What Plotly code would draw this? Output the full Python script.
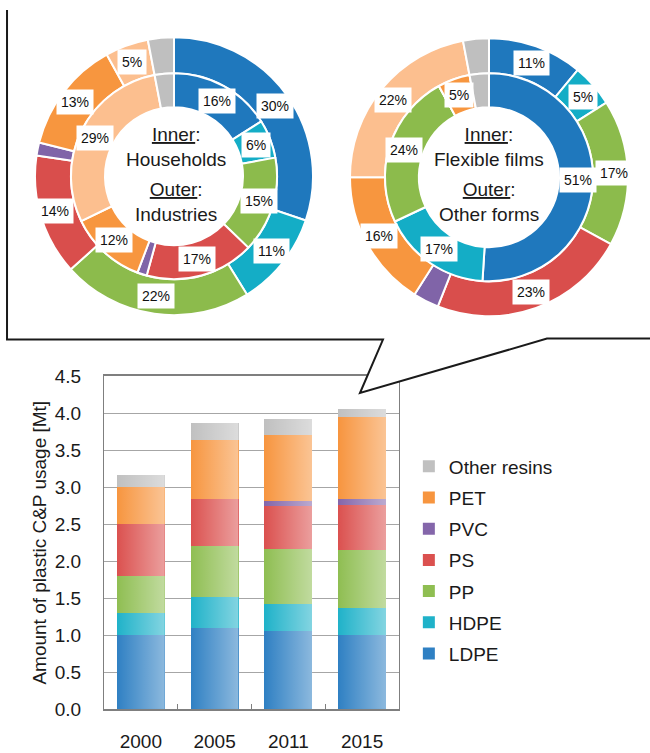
import base64
import math
import plotly.graph_objects as go

W, H = 650, 753

# ---------------- data ----------------
years = ["2000", "2005", "2011", "2015"]
ldpe = [1.00, 1.10, 1.05, 1.00]
hdpe = [0.30, 0.41, 0.37, 0.36]
pp = [0.50, 0.70, 0.74, 0.79]
ps = [0.70, 0.635, 0.585, 0.615]
pvc = [0.0, 0.0, 0.07, 0.08]
pet = [0.50, 0.79, 0.89, 1.10]
other_resins = [0.17, 0.24, 0.225, 0.12]
resins = ["LDPE", "HDPE", "PP", "PS", "PVC", "PET", "Other resins"]

pie_labels = ["LDPE", "HDPE", "PP", "PS", "PVC", "PET", "PET (other)", "Other resins"]
households = [16, 6, 15, 17, 1.5, 12, 29, 3]
households_text = ["16%", "6%", "15%", "17%", "", "12%", "29%", ""]
industries = [30, 11, 22, 14, 1.5, 13, 5, 3]
industries_text = ["30%", "11%", "22%", "14%", "", "13%", "5%", ""]
flexible_films = [51, 17, 24, 0, 0, 5, 0, 3]
flexible_films_text = ["51%", "17%", "24%", "", "", "5%", "", ""]
other_forms = [11, 5, 17, 23, 3, 16, 22, 3]
other_forms_text = ["11%", "5%", "17%", "23%", "", "16%", "22%", ""]

# ---------------- styles ----------------
FONT = "Liberation Sans, Arial, sans-serif"
bar_colors = ["#2f80c3", "#1fb2c9", "#8fbe52", "#db514f", "#8466aa", "#f7953f", "#c0c0c0"]
pie_colors = ["#1f78bd", "#14adc6", "#8cbb4c", "#d94e4c", "#8064a8", "#f7963f", "#fcbf8f", "#bfbfbf"]
BAR_WIDTH = 0.65


def px_x(x):
    return x / W


def px_y(y):
    return 1 - y / H


fig = go.Figure()

series = [ldpe, hdpe, pp, ps, pvc, pet, other_resins]
n = len(series)
for i, (name, vals, col) in enumerate(zip(resins, series, bar_colors)):
    fig.add_trace(go.Bar(
        x=years, y=vals, name=name, marker=dict(color=col, line=dict(width=0)),
        legendgroup=name, legendrank=n - i,
    ))

# horizontal shading overlay on each bar (left saturated -> right lighter)
svg = ('<svg xmlns="http://www.w3.org/2000/svg" width="100" height="100" viewBox="0 0 100 100" '
       'preserveAspectRatio="none"><defs><linearGradient id="g" x1="0" x2="1" y1="0" y2="0">'
       '<stop offset="0" stop-color="#ffffff" stop-opacity="0"/>'
       '<stop offset="1" stop-color="#ffffff" stop-opacity="0.45"/></linearGradient></defs>'
       '<rect x="0" y="0" width="100" height="100" fill="url(#g)"/></svg>')
grad_src = "data:image/svg+xml;base64," + base64.b64encode(svg.encode()).decode()
totals = [sum(s[j] for s in series) for j in range(len(years))]
images = []
for j, tot in enumerate(totals):
    images.append(dict(source=grad_src, xref="x", yref="y", x=j, y=tot,
                       sizex=BAR_WIDTH, sizey=tot, xanchor="center", yanchor="top",
                       sizing="stretch", layer="above", opacity=1))


def add_pie(values, cx, cy, r, hole):
    fig.add_trace(go.Pie(
        labels=pie_labels, values=values, textinfo="none",
        marker=dict(colors=pie_colors, line=dict(color="white", width=2)),
        sort=False, direction="clockwise", rotation=0, hole=hole,
        showlegend=False,
        domain=dict(x=[px_x(cx - r), px_x(cx + r)], y=[px_y(cy + r), px_y(cy - r)]),
    ))


annotations = []


def add_pie_labels(values, texts, cx, cy, r_in, r_out):
    total = float(sum(values))
    cum = 0.0
    rm = (r_in + r_out) / 2
    for v, t in zip(values, texts):
        mid = (cum + v / 2) / total * 2 * math.pi
        cum += v
        if not t:
            continue
        annotations.append(dict(
            x=px_x(cx + rm * math.sin(mid)), y=px_y(cy - rm * math.cos(mid)),
            xref="paper", yref="paper", xanchor="center", yanchor="middle",
            text=t, showarrow=False, bgcolor="white", borderpad=4,
            font=dict(family=FONT, size=14, color="#111111")))


# left donut (Households inner / Industries outer)
add_pie(industries, 174, 171, 143, 106 / 143)
add_pie(households, 174, 171, 106, 71 / 106)
# right donut (Flexible films inner / Other forms outer)
add_pie(other_forms, 489, 172, 143, 107 / 143)
add_pie(flexible_films, 489, 172, 107, 72 / 107)

add_pie_labels(industries, industries_text, 174, 171, 106, 143)
add_pie_labels(households, households_text, 174, 171, 71, 106)
add_pie_labels(other_forms, other_forms_text, 489, 172, 107, 143)
add_pie_labels(flexible_films, flexible_films_text, 489, 172, 72, 107)

for cx, inner, outer in [(176, "Households", "Industries"), (489, "Flexible films", "Other forms")]:
    annotations.append(dict(x=px_x(cx), y=px_y(141), xref="paper", yref="paper",
                            xanchor="center", yanchor="middle",
                            text="<u>Inner</u>:<br>" + inner, showarrow=False,
                            font=dict(family=FONT, size=19, color="#1a1a1a"), align="center"))
    annotations.append(dict(x=px_x(cx), y=px_y(198), xref="paper", yref="paper",
                            xanchor="center", yanchor="middle",
                            text="<u>Outer</u>:<br>" + outer, showarrow=False,
                            font=dict(family=FONT, size=19, color="#1a1a1a"), align="center"))

# speech bubble outline
pts = [(7, 0), (7, 339), (383, 339), (360, 394), (547, 338), (650, 338)]
path = "M " + " L ".join(f"{px_x(x):.4f},{px_y(y):.4f}" for x, y in pts)
tri = [(383, 339), (360, 394), (547, 338)]
tri_path = "M " + " L ".join(f"{px_x(x):.4f},{px_y(y):.4f}" for x, y in tri) + " Z"
shapes = [
    dict(type="path", path=tri_path, xref="paper", yref="paper", fillcolor="white",
         line=dict(width=0), layer="above"),
    dict(type="path", path=path, xref="paper", yref="paper",
         line=dict(color="#1a1a1a", width=2), layer="above"),
]

fig.update_layout(
    width=W, height=H, margin=dict(l=0, r=0, t=0, b=0),
    paper_bgcolor="white", plot_bgcolor="white",
    font=dict(family=FONT, color="#1a1a1a"),
    barmode="stack", bargap=1 - BAR_WIDTH,
    showlegend=True,
    legend=dict(x=0.629, y=px_y(450), xanchor="left", yanchor="top",
                traceorder="grouped", tracegroupgap=3.5,
                font=dict(family=FONT, size=19, color="#1a1a1a"),
                bgcolor="rgba(0,0,0,0)"),
    annotations=annotations, shapes=shapes, images=images,
    xaxis=dict(type="category", domain=[px_x(104), px_x(399)], showline=True, linecolor="#7f7f7f",
               linewidth=1.5, mirror=True, ticks="inside", tickson="boundaries", ticklen=5,
               tickcolor="#7f7f7f", tickfont=dict(family=FONT, size=19, color="#1a1a1a"),
               ticklabelstandoff=15),
    yaxis=dict(domain=[px_y(719), px_y(377)], range=[0, 4.5], dtick=0.5, tickformat=".1f",
               showgrid=True, gridcolor="#a6a6a6", gridwidth=1, showline=True, linecolor="#7f7f7f",
               mirror=True, ticks="", zeroline=False,
               tickfont=dict(family=FONT, size=19, color="#1a1a1a"), ticklabelstandoff=18,
               title=dict(text="Amount of plastic C&P usage [Mt]", standoff=3,
                          font=dict(family=FONT, size=19, color="#1a1a1a"))),
)

fig.write_html("out.html", config={"displayModeBar": False},
               post_script="document.body.style.margin='0';")
